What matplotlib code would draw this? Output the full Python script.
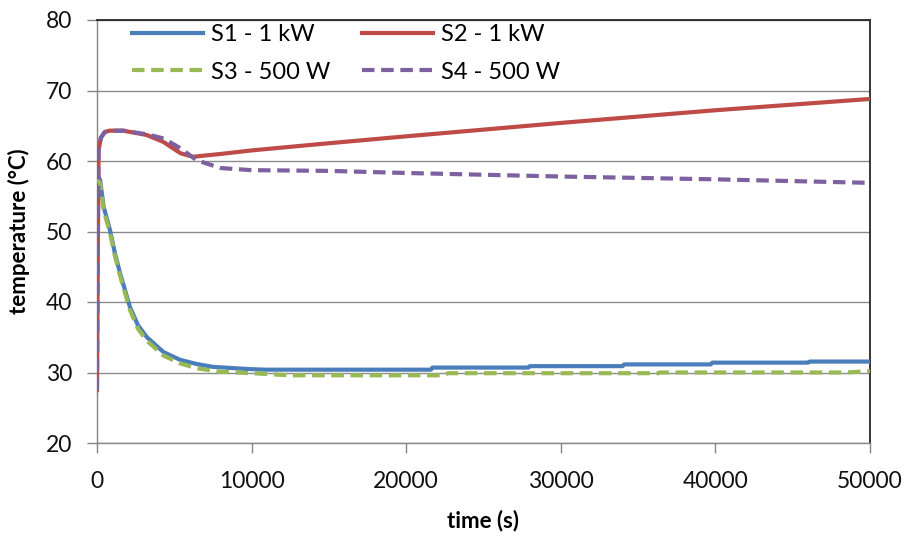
import matplotlib
matplotlib.use("Agg")
import matplotlib.pyplot as plt

plt.rcParams['font.family'] = ['Lato', 'DejaVu Sans']

# ---- data ----
t_s1 = [0, 200, 430, 840, 1160, 1490, 2130, 2650, 3230, 4300, 5370, 6450, 7500, 9700,
        10900, 21600, 21700, 27900, 28000, 34000, 34100, 39700, 39800, 46000, 46100, 50000]
y_s1 = [58.0, 57.3, 53.5, 50.2, 46.9, 44.1, 39.3, 36.7, 35.0, 32.9, 31.8, 31.2, 30.8, 30.5,
        30.4, 30.4, 30.7, 30.7, 30.9, 30.9, 31.15, 31.15, 31.4, 31.4, 31.55, 31.55]

t_s2 = [0, 60, 100, 250, 500, 800, 1700, 3200, 4300, 5400, 6200, 8000, 10000, 14400,
        20000, 30000, 40000, 50000]
y_s2 = [27.5, 50.0, 61.5, 63.3, 64.1, 64.3, 64.3, 63.7, 62.7, 61.1, 60.6, 61.0, 61.5, 62.4,
        63.5, 65.4, 67.2, 68.8]

t_s3 = [0, 200, 430, 840, 1160, 1490, 2130, 2650, 3230, 4300, 5370, 6450, 8000, 10000,
        12500, 22500, 22700, 36300, 36400, 48500, 50000]
y_s3 = [57.5, 56.8, 53.0, 49.8, 46.5, 43.7, 38.9, 36.2, 34.5, 32.4, 31.3, 30.6, 30.1, 29.9,
        29.6, 29.6, 29.9, 29.9, 30.0, 30.0, 30.2]

t_s4 = [0, 60, 100, 250, 500, 800, 1700, 3200, 4300, 5400, 6450, 8000, 10000, 15000,
        20000, 30000, 40000, 50000]
y_s4 = [27.5, 50.0, 61.5, 63.3, 64.1, 64.3, 64.3, 63.8, 63.2, 61.8, 60.1, 59.0, 58.7, 58.6,
        58.3, 57.8, 57.4, 56.9]

labels = ["S1 - 1 kW", "S2 - 1 kW", "S3 - 500 W", "S4 - 500 W"]
x_ticks = [0, 10000, 20000, 30000, 40000, 50000]
y_ticks = [20, 30, 40, 50, 60, 70, 80]

# ---- figure ----
fig = plt.figure(figsize=(9.10, 5.37), dpi=100)
ax = fig.add_axes([97/910, 1-443/537, (870-97)/910, (443-20)/537])

blue, red, green, purple = '#4A7EBB', '#BE4B48', '#98B954', '#7D60A0'
lw = 3.0
dash = (0, (3, 1.6))
l1, = ax.plot(t_s1, y_s1, color=blue, lw=lw, label=labels[0], zorder=3)
l2, = ax.plot(t_s2, y_s2, color=red, lw=lw, label=labels[1], zorder=4)
l3, = ax.plot(t_s3, y_s3, color=green, lw=lw, ls=dash, label=labels[2], zorder=5)
l4, = ax.plot(t_s4, y_s4, color=purple, lw=lw, ls=dash, label=labels[3], zorder=6)

ax.set_xlim(0, 50000)
ax.set_ylim(20, 80)
ax.set_xticks(x_ticks)
ax.set_yticks(y_ticks)
ax.set_xticklabels([str(v) for v in x_ticks])
ax.set_yticklabels([str(v) for v in y_ticks])

ax.yaxis.grid(True, color='#8C8C8C', lw=1.0)
ax.set_axisbelow(True)

for s in ['left', 'bottom']:
    ax.spines[s].set_color('#868686')
    ax.spines[s].set_linewidth(1.0)
for s in ['top', 'right']:
    ax.spines[s].set_color('#262626')
    ax.spines[s].set_linewidth(1.3)

ax.tick_params(axis='both', direction='out', length=7, width=1.0, color='#868686',
               labelsize=16.5, labelcolor='#111111')
ax.tick_params(axis='x', pad=13)
ax.tick_params(axis='y', pad=11)

ax.set_xlabel("time (s)", fontsize=16, fontweight='bold', va='center')
ax.set_ylabel("temperature (°C)", fontsize=16, fontweight='bold', va='center')
ax.xaxis.set_label_coords(0.5, (443-521)/423)
ax.yaxis.set_label_coords((19-97)/773, 0.5)

leg = ax.legend([l1, l3, l2, l4], [labels[0], labels[2], labels[1], labels[3]],
                ncol=2, loc='upper left', bbox_to_anchor=(132/910, 1-24/537),
                bbox_transform=fig.transFigure, frameon=False, fontsize=17,
                handlelength=3.0, handletextpad=0.35, columnspacing=1.35,
                labelspacing=0.7, borderaxespad=0, borderpad=0)

fig.savefig("out.png", dpi=100, facecolor='white')
